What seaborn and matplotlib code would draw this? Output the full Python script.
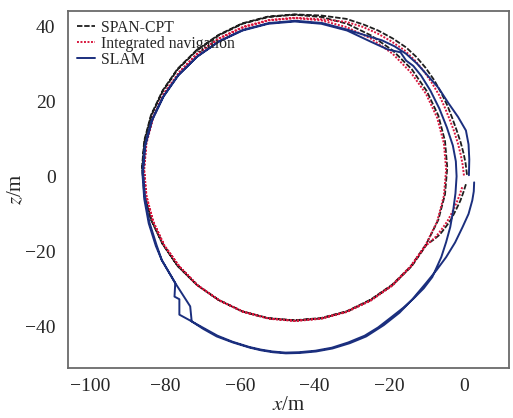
import matplotlib
matplotlib.use("Agg")
import matplotlib.pyplot as plt
import seaborn as sns
import pandas as pd

# Trajectories (x/m, z/m)
# SPAN-CPT: entry leg, lap 1, lap 2 up to the top, then the outer exit leg
span_x = [0.5, -0.2, -1.0, -2.2, -3.5, -5.0, -6.5, -8.2,
          -10.0, -14.0, -19.1, -24.9, -31.3, -38.2, -45.3, -52.4, -59.3, -65.7, -71.5, -76.6,
          -80.6, -83.7, -85.5, -86.1, -85.5, -83.7, -80.6, -76.6, -71.5, -65.7, -59.3, -52.4,
          -45.3, -38.2, -31.3, -24.9, -19.1, -14.0, -10.0, -6.9, -5.1, -4.5, -5.1, -6.9,
          -10.1, -14.1, -19.2, -25.0, -31.4, -38.3, -45.4, -52.5, -59.4, -65.8, -71.6, -76.7,
          -80.7, -83.8, -85.6, -86.2, -85.6, -83.8, -80.7, -76.7, -71.6, -65.8, -59.4, -52.5,
          -45.4,
          -38.2, -31.5, -26.9, -23.0, -19.1, -15.5, -12.8, -10.3, -8.0, -6.0, -4.4, -3.2,
          -2.0, -0.9, -0.1, 0.4, 0.8]
span_z = [-2.1, -4.3, -6.5, -9.0, -11.5, -13.6, -15.5, -16.9,
          -18.1, -23.9, -28.9, -32.9, -36.0, -37.8, -38.4, -37.8, -36.0, -32.9, -28.9, -23.9,
          -18.1, -11.6, -4.8, 2.3, 9.4, 16.2, 22.7, 28.5, 33.5, 37.5, 40.6, 42.4,
          43.0, 42.4, 40.6, 37.5, 33.5, 28.5, 22.7, 16.2, 9.4, 2.3, -4.8, -11.6,
          -18.0, -23.8, -28.8, -32.8, -35.9, -37.7, -38.3, -37.7, -35.9, -32.8, -28.8, -23.8,
          -18.0, -11.5, -4.7, 2.4, 9.5, 16.3, 22.8, 28.6, 33.6, 37.6, 40.7, 42.5,
          43.1,
          42.8, 41.9, 40.4, 38.8, 36.7, 34.3, 31.8, 28.9, 25.6, 22.0, 18.7, 15.6,
          12.3, 9.0, 6.0, 3.5, 0.3]

# Integrated navigation
ins_x = [-0.5, -1.2, -2.0, -3.2, -4.5, -6.0, -7.5, -8.9,
         -10.2, -14.3, -19.2, -25.0, -31.4, -38.2, -45.2, -52.2, -59.0, -65.4, -71.2, -76.1,
         -80.2, -83.2, -85.0, -85.6, -85.0, -83.2, -80.2, -76.1, -71.2, -65.4, -59.0, -52.2,
         -45.2, -38.2, -31.4, -25.0, -19.2, -14.3, -10.2, -7.2, -5.4, -4.8, -5.4, -7.2,
         -10.3, -14.4, -19.3, -25.1, -31.5, -38.3, -45.3, -52.3, -59.1, -65.5, -71.3, -76.2,
         -80.3, -83.3, -85.1, -85.7, -85.1, -83.3, -80.3, -76.2, -71.3, -65.5, -59.1, -52.3,
         -45.3,
         -38.2, -31.5, -27.2, -23.3, -19.6, -16.0, -13.4, -11.0, -8.7, -6.6, -5.1, -3.8,
         -2.6, -1.6, -0.9, -0.4, 0.0]
ins_z = [-2.9, -5.0, -7.0, -9.6, -12.0, -14.1, -16.0, -17.3,
         -18.4, -24.1, -29.1, -33.1, -36.1, -37.9, -38.5, -37.9, -36.1, -33.1, -29.1, -24.1,
         -18.4, -12.0, -5.2, 1.8, 8.8, 15.6, 22.0, 27.7, 32.7, 36.7, 39.7, 41.5,
         42.1, 41.5, 39.7, 36.7, 32.7, 27.7, 22.0, 15.6, 8.8, 1.8, -5.2, -12.0,
         -18.3, -24.0, -29.0, -33.0, -36.0, -37.8, -38.4, -37.8, -36.0, -33.0, -29.0, -24.0,
         -18.3, -11.9, -5.1, 1.9, 8.9, 15.7, 22.1, 27.8, 32.8, 36.8, 39.8, 41.6,
         42.2,
         41.8, 41.1, 39.8, 38.1, 36.0, 33.6, 31.1, 28.3, 25.0, 21.5, 18.2, 15.0,
         11.8, 8.6, 5.8, 3.2, 0.0]

# SLAM: outer bottom pass, left/top, right side, second bottom pass with the step, left/top, outer exit
slam_x = [2.7, 2.6, 2.2, 1.2, -0.4, -2.4, -4.8, -7.4, -10.1, -13.9, -17.3, -21.5, -26.2,
          -30.6, -35.2, -39.6, -44.0, -47.7, -51.2, -54.3, -57.3, -61.9, -66.2, -69.8, -72.9,
          -73.3, -77.3, -80.9,
          -82.5, -84.4, -85.6, -86.1, -85.5, -83.7, -80.6, -76.6, -71.5, -65.7, -59.3, -52.4,
          -45.3, -38.2, -31.3, -24.9,
          -20.5, -17.0, -15.5, -13.6, -11.5, -9.0, -6.6, -4.6, -3.0, -2.2, -2.0, -2.3, -2.9,
          -3.7, -4.8, -6.1, -8.5, -10.8, -13.5, -16.3, -19.5,
          -23.0, -26.6, -31.0, -35.4, -39.8, -44.2, -47.8, -51.3, -54.4, -57.5, -62.0, -66.0,
          -70.0, -73.8, -76.2, -76.2, -77.5, -77.3, -80.9,
          -82.3, -84.2, -85.4, -85.9, -85.3, -83.5, -80.4, -76.4, -71.3, -65.5, -59.1, -52.2,
          -45.1, -38.0, -31.1, -26.0,
          -22.0, -18.6, -15.5, -12.6, -9.9, -6.8, -4.2, -1.6, 0.5, 1.2, 1.4, 1.3]
slam_z = [-1.6, -4.0, -6.4, -10.0, -13.5, -17.6, -21.5, -25.0, -28.3, -32.8, -36.3, -39.6, -42.6,
          -44.4, -45.8, -46.6, -47.0, -47.1, -46.8, -46.3, -45.6, -44.2, -42.6, -40.6, -38.6,
          -34.6, -28.4, -22.3,
          -18.5, -12.5, -6.0, 1.0, 8.0, 14.7, 21.1, 26.8, 31.8, 35.8, 38.8, 40.6,
          41.2, 40.6, 38.8, 35.8,
          33.8, 33.0, 30.8, 29.4, 26.8, 22.8, 18.0, 13.0, 8.2, 4.0, 0.0, -4.5, -9.0,
          -13.5, -17.5, -21.5, -26.8, -29.8, -32.5, -35.0, -37.5,
          -40.2, -42.4, -44.2, -45.6, -46.4, -46.8, -46.9, -46.6, -46.1, -45.4, -44.0, -42.4,
          -40.2, -38.1, -36.8, -32.7, -32.0, -28.4, -22.3,
          -18.3, -12.3, -5.8, 1.2, 8.2, 14.9, 21.3, 27.0, 32.0, 36.0, 39.0, 40.8,
          41.4, 40.8, 39.0, 37.4,
          36.2, 34.6, 32.6, 30.0, 27.0, 23.5, 19.5, 15.8, 12.2, 8.5, 4.5, 0.3]

x_ticks = [-100, -80, -60, -40, -20, 0]
z_ticks = [-40, -20, 0, 20, 40]

sns.set_style("white")
plt.rcParams["font.family"] = ["Liberation Serif", "DejaVu Serif"]
plt.rcParams["mathtext.fontset"] = "stix"

span_df = pd.DataFrame({"x": span_x, "z": span_z})
ins_df = pd.DataFrame({"x": ins_x, "z": ins_z})
slam_df = pd.DataFrame({"x": slam_x, "z": slam_z})

fig = plt.figure(figsize=(5.13, 4.18), dpi=100)
ax = fig.add_axes([0.1326, 0.1196, 0.8594, 0.8541])

sns.lineplot(data=span_df, x="x", y="z", sort=False, estimator=None, ax=ax,
             color="#1e1e1e", linestyle=(0, (3, 1)), linewidth=1.3,
             label="SPAN-CPT")
sns.lineplot(data=ins_df, x="x", y="z", sort=False, estimator=None, ax=ax,
             color="#d8183e", linestyle=(0, (1, 0.8)), linewidth=1.4,
             label="Integrated navigation")
sns.lineplot(data=slam_df, x="x", y="z", sort=False, estimator=None, ax=ax,
             color="#1b2f7e", linewidth=1.4, label="SLAM")

ax.set_xlim(-106, 12)
ax.set_ylim(-51, 44)
ax.set_xticks(x_ticks)
ax.set_yticks(z_ticks)
ax.tick_params(axis="both", length=0, labelsize=14)
ax.tick_params(axis="x", pad=7)
ax.tick_params(axis="y", pad=9)
ax.set_xlabel("$x$/m", fontsize=15, labelpad=1)
ax.set_ylabel("$z$/m", fontsize=15, labelpad=-1)

for sp in ax.spines.values():
    sp.set_color("#6a6a6a")
    sp.set_linewidth(1.3)

ax.legend(loc="upper left", frameon=False, fontsize=11.3, labelspacing=0.0,
          handlelength=1.2, handletextpad=0.35, borderaxespad=0.15,
          bbox_to_anchor=(0.0, 1.0))

fig.savefig("out.png", dpi=100)
